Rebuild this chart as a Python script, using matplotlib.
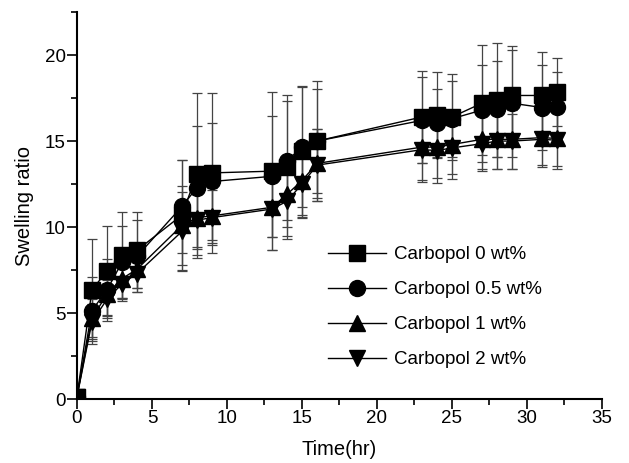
import numpy as np
import matplotlib.pyplot as plt
from matplotlib.ticker import MultipleLocator

plt.rcParams['font.family'] = ['Liberation Sans', 'DejaVu Sans']

# time points (hr)
time = [0, 1, 2, 3, 4, 7, 8, 9, 13, 14, 15, 16, 23, 24, 25, 27, 28, 29, 31, 32]

# swelling ratio, mean values
c0 = [0.15, 6.35, 7.45, 8.35, 8.65, 10.7, 13.1, 13.15, 13.25, 13.5, 14.4, 15.0,
      16.4, 16.5, 16.4, 17.2, 17.4, 17.65, 17.65, 17.85]
c05 = [0.15, 5.15, 6.35, 7.95, 8.3, 11.2, 12.3, 12.65, 12.95, 13.85, 14.65, 15.0,
       16.2, 16.05, 16.3, 16.8, 16.85, 17.2, 16.95, 17.0]
c1 = [0.15, 4.7, 6.1, 7.0, 7.55, 10.1, 10.55, 10.65, 11.15, 11.9, 12.7, 13.7,
      14.65, 14.65, 14.8, 15.1, 15.1, 15.1, 15.2, 15.15]
c2 = [0.15, 4.5, 5.8, 6.7, 7.3, 9.75, 10.4, 10.55, 11.05, 11.5, 12.5, 13.6,
      14.5, 14.45, 14.6, 14.85, 15.0, 15.0, 15.1, 15.05]

# standard deviations
c0_err = [0, 2.95, 2.6, 2.55, 2.2, 3.2, 4.7, 4.65, 4.6, 4.2, 3.8, 3.5,
          2.7, 2.5, 2.5, 3.4, 3.3, 2.85, 2.55, 1.95]
c05_err = [0, 1.95, 1.8, 2.1, 2.1, 2.7, 3.6, 3.4, 3.5, 3.45, 3.5, 3.0,
           2.5, 1.95, 2.2, 2.6, 2.8, 3.1, 2.45, 2.0]
c1_err = [0, 1.1, 1.2, 1.1, 1.1, 2.3, 1.7, 1.6, 1.7, 1.9, 2.0, 2.0,
          1.9, 1.8, 1.7, 1.7, 1.7, 1.7, 1.6, 1.6]
c2_err = [0, 1.0, 1.1, 1.0, 1.1, 2.3, 2.2, 1.6, 2.4, 2.0, 2.0, 2.1,
          1.9, 1.9, 1.8, 1.6, 1.6, 1.6, 1.6, 1.7]

labels = ['Carbopol 0 wt%', 'Carbopol 0.5 wt%', 'Carbopol 1 wt%', 'Carbopol 2 wt%']
markers = ['s', 'o', '^', 'v']

fig = plt.figure(figsize=(6.29, 4.63), dpi=100)
ax = fig.add_axes([0.1224, 0.138, 0.8346, 0.836])

for y, e, m, lab in zip([c0, c05, c1, c2], [c0_err, c05_err, c1_err, c2_err], markers, labels):
    ax.errorbar(time, y, yerr=e, fmt='none', ecolor='#444444', elinewidth=0.9,
                capsize=3.5, capthick=0.9, zorder=2)
    ax.plot(time, y, color='black', lw=1.0, marker=m, ms=11.5, mfc='black',
            mec='black', label=lab, zorder=3)

ax.set_xlim(0, 35)
ax.set_ylim(0, 22.5)
ax.xaxis.set_major_locator(MultipleLocator(5))
ax.xaxis.set_minor_locator(MultipleLocator(2.5))
ax.yaxis.set_major_locator(MultipleLocator(5))
ax.yaxis.set_minor_locator(MultipleLocator(2.5))
ax.tick_params(which='major', direction='out', length=7, width=1.2, labelsize=13.5, pad=1)
ax.tick_params(which='minor', direction='out', length=4, width=1.2)
for s in ['top', 'right']:
    ax.spines[s].set_visible(False)
for s in ['left', 'bottom']:
    ax.spines[s].set_linewidth(1.5)

ax.set_xlabel('Time(hr)', fontsize=14.5, labelpad=9)
ax.set_ylabel('Swelling ratio', fontsize=14.5, labelpad=8)

ax.legend(loc='upper left', bbox_to_anchor=(0.522, 0.468), bbox_transform=fig.transFigure,
          frameon=False, fontsize=13.5, handlelength=3.1, handletextpad=0.4,
          labelspacing=0.95, borderpad=0, borderaxespad=0)

fig.savefig('out.png', dpi=100)
